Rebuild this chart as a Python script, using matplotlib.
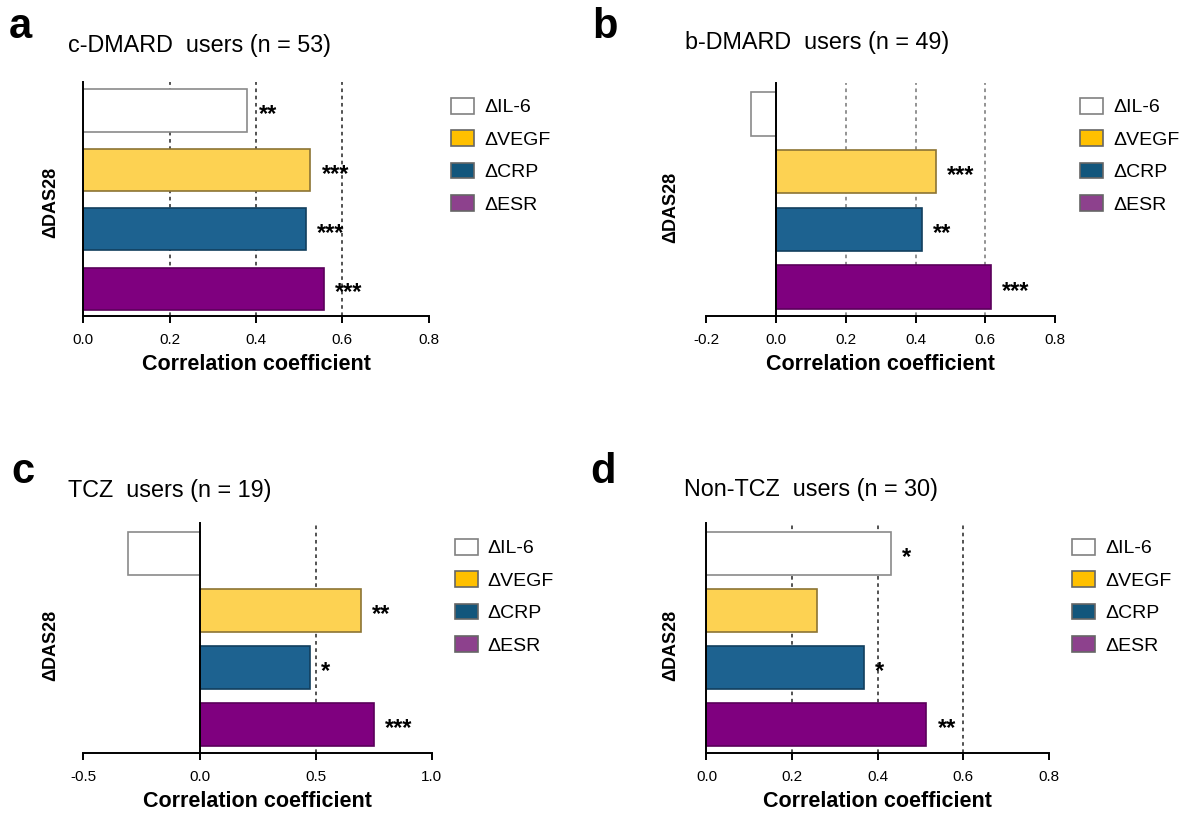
import matplotlib
matplotlib.use("Agg")
import matplotlib.pyplot as plt
from matplotlib.patches import Patch

plt.rcParams['font.family'] = ['Liberation Sans', 'DejaVu Sans']

W, H = 1184, 816

markers = ["ΔIL-6", "ΔVEGF", "ΔCRP", "ΔESR"]
bar_colors = ["white", "#FDD252", "#1D6290", "#7F007F"]
edge_colors = ["#8A8A8A", "#8C7434", "#123F5E", "#5A005A"]
legend_colors = ["white", "#FFC000", "#12567C", "#8D418D"]

titles = ["c-DMARD  users (n = 53)", "b-DMARD  users (n = 49)",
          "TCZ  users (n = 19)", "Non-TCZ  users (n = 30)"]
panel_labels = ["a", "b", "c", "d"]

r_cdmard = [0.38, 0.526, 0.515, 0.557]
r_bdmard = [-0.07, 0.459, 0.418, 0.617]
r_tcz = [-0.307, 0.696, 0.477, 0.752]
r_nontcz = [0.431, 0.258, 0.367, 0.514]

sig_cdmard = ["**", "***", "***", "***"]
sig_bdmard = ["", "***", "**", "***"]
sig_tcz = ["", "**", "*", "***"]
sig_nontcz = ["*", "", "*", "**"]

ticks_cdmard = [0.0, 0.2, 0.4, 0.6, 0.8]
ticks_bdmard = [-0.2, 0.0, 0.2, 0.4, 0.6, 0.8]
ticks_tcz = [-0.5, 0.0, 0.5, 1.0]
ticks_nontcz = [0.0, 0.2, 0.4, 0.6, 0.8]

grid_cdmard = [0.2, 0.4, 0.6]
grid_bdmard = [0.0, 0.2, 0.4, 0.6]
grid_tcz = [0.5]
grid_nontcz = [0.2, 0.4, 0.6]

fig = plt.figure(figsize=(W / 100, H / 100), dpi=100)


def px_axes(left, right, top, bottom):
    return fig.add_axes([left / W, 1 - bottom / H, (right - left) / W, (bottom - top) / H])


def panel(box, values, sigs, ticks, grid, grid_color, ylim, bar_h, title, tpos,
          label, lpos, ypos, legpos):
    ax = px_axes(*box)
    y = list(range(len(values)))
    for g in grid:
        ax.axvline(g, color=grid_color, lw=1.3, ls=(0, (2, 2)), zorder=0)
    ax.barh(y, values, height=bar_h, color=bar_colors, edgecolor=edge_colors,
            linewidth=1.2, zorder=2)
    for yi, v, s in zip(y, values, sigs):
        if s:
            ax.annotate(s, (max(v, 0), yi), xytext=(8, -3), textcoords="offset points",
                        ha="left", va="center", fontsize=17, fontweight="bold")
    ax.set_xlim(ticks[0], ticks[-1])
    ax.set_ylim(*ylim)
    ax.set_xticks(ticks)
    ax.set_xticklabels([f"{t:.1f}" for t in ticks], fontsize=11)
    ax.set_yticks([])
    ax.spines[["top", "right"]].set_visible(False)
    ax.spines["left"].set_position(("data", 0))
    for sp in ["left", "bottom"]:
        ax.spines[sp].set_linewidth(1.4)
    ax.tick_params(axis="x", length=5, width=1.4, pad=7)
    ax.set_xlabel("Correlation coefficient", fontsize=15.5, fontweight="bold", labelpad=5)
    ax.patch.set_alpha(0)

    fig.text(tpos[0] / W, 1 - tpos[1] / H, title, fontsize=16.8, va="baseline", ha="left")
    fig.text(lpos[0] / W, 1 - lpos[1] / H, label, fontsize=30, fontweight="bold",
             va="baseline", ha="left")
    fig.text(ypos[0] / W, 1 - ypos[1] / H, "ΔDAS28", fontsize=13, fontweight="bold",
             rotation=90, va="center", ha="center")

    handles = [Patch(facecolor=c, edgecolor="#808080" if c == "white" else "#666666",
                     linewidth=1.2) for c in legend_colors]
    fig.legend(handles, markers, loc="upper left",
               bbox_to_anchor=(legpos[0] / W, 1 - legpos[1] / H),
               frameon=False, fontsize=14, handlelength=1.2, handleheight=0.85,
               handletextpad=0.5, labelspacing=0.72, borderpad=0, borderaxespad=0)
    return ax


panel((83.4, 428.6, 81.7, 316), r_cdmard, sig_cdmard, ticks_cdmard, grid_cdmard,
      "#444444", (3.46, -0.485), 0.71, titles[0], (68, 52), "a", (9, 38), (51, 202),
      (451, 98))
panel((706.1, 1055.1, 83.3, 316), r_bdmard, sig_bdmard, ticks_bdmard, grid_bdmard,
      "#8A8A8A", (3.5, -0.53), 0.75, titles[1], (685, 49), "b", (592, 38), (671, 207),
      (1080, 98))
panel((83.4, 431.7, 523.3, 753.3), r_tcz, sig_tcz, ticks_tcz, grid_tcz,
      "#444444", (3.51, -0.535), 0.76, titles[2], (68, 497), "c", (11, 483), (51, 645),
      (454.6, 539))
panel((706.5, 1048.8, 523.3, 753.3), r_nontcz, sig_nontcz, ticks_nontcz, grid_nontcz,
      "#444444", (3.51, -0.535), 0.76, titles[3], (684, 496), "d", (590, 483), (671, 645),
      (1072, 539))

fig.savefig("out.png", dpi=100)
